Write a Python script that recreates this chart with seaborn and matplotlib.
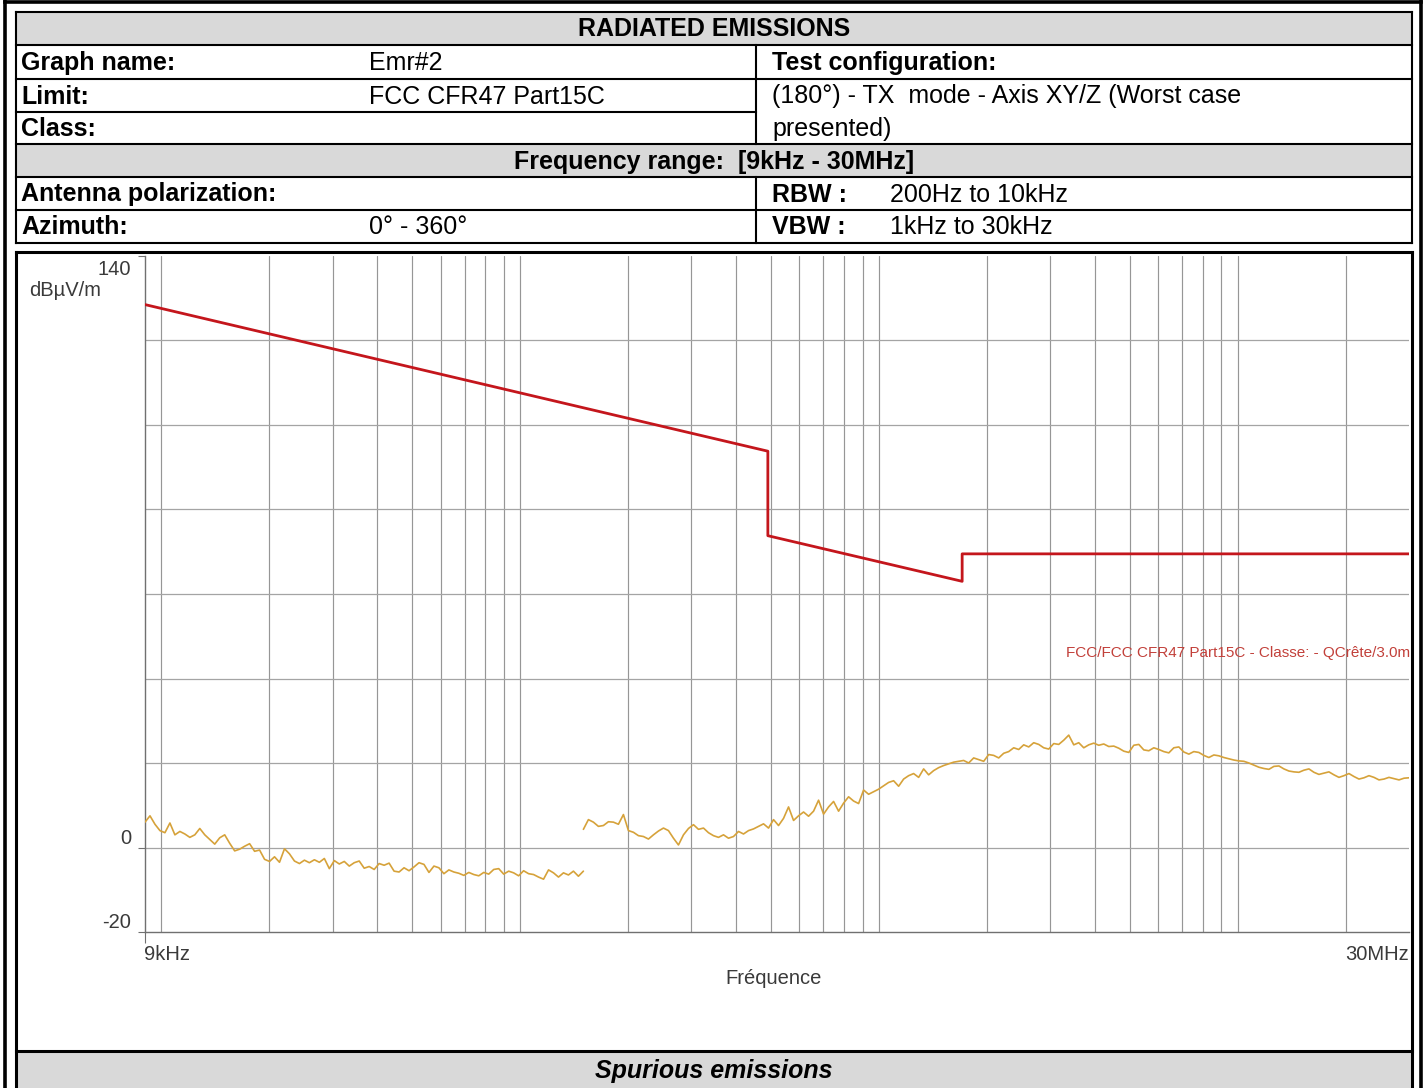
import numpy as np
import pandas as pd
import matplotlib
matplotlib.use("Agg")
import matplotlib.pyplot as plt
from matplotlib.patches import Rectangle
from matplotlib.lines import Line2D
import seaborn as sns

# ---------------- data ----------------
limit_freq_hz = [9e3, 490e3, 490e3, 1.705e6, 1.705e6, 30e6]
limit_level = [128.5, 93.8, 73.8, 63.0, 69.5, 69.5]

seg1_range_hz = [9e3, 150e3]
seg1_level = [6.0, 7.5, 5.5, 4.0, 3.5, 5.8, 3.0, 3.8, 3.2, 2.4, 3.0, 4.5, 3.0, 1.9, 0.8,
              2.3, 3.0, 1.0, -0.8, -0.4, 0.3, 0.9, -0.9, -0.6, -2.8, -3.3, -2.2, -3.5,
              -0.3, -1.5, -3.2, -3.8, -3.0, -3.6, -2.9, -3.5, -2.6, -5.0, -3.1, -3.9,
              -3.3, -4.4, -3.6, -3.2, -4.9, -4.5, -5.2, -3.8, -4.2, -3.7, -5.6, -5.8,
              -4.8, -5.5, -4.6, -3.6, -4.0, -5.9, -4.4, -4.8, -6.2, -5.3, -5.8, -6.1,
              -6.6, -5.9, -6.4, -6.7, -5.9, -6.3, -5.2, -5.0, -6.3, -5.6, -6.0, -6.7,
              -5.5, -6.2, -6.4, -7.0, -7.5, -5.3, -6.0, -7.0, -6.0, -6.5, -5.6, -6.8, -5.6]

seg2_range_hz = [150e3, 30e6]
seg2_level = [4.3, 6.6, 6.0, 5.0, 5.2, 6.1, 6.0, 5.5, 7.8, 4.0, 3.6, 2.8, 2.6, 2.0, 3.0,
              3.9, 4.6, 4.0, 2.2, 0.6, 3.0, 4.5, 5.4, 4.3, 4.6, 3.5, 2.8, 2.4, 3.0, 2.2,
              2.6, 3.8, 3.2, 4.0, 4.4, 5.0, 5.6, 4.6, 6.6, 5.2, 6.9, 9.6, 6.4, 7.5, 8.4,
              7.4, 8.6, 11.2, 7.9, 9.6, 10.9, 8.6, 10.5, 12.0, 11.0, 10.4, 13.6, 12.6,
              13.2, 13.8, 14.6, 15.4, 15.8, 14.5, 16.2, 17.0, 17.5, 16.6, 18.6, 17.2,
              18.2, 18.9, 19.4, 19.8, 20.2, 20.4, 20.6, 20.0, 21.2, 20.8, 20.4, 22.0,
              21.8, 21.2, 22.3, 22.7, 23.6, 23.2, 24.3, 23.8, 24.8, 24.4, 23.6, 23.3,
              24.6, 24.4, 25.4, 26.6, 24.3, 24.8, 23.6, 24.3, 24.7, 24.2, 24.5, 23.9,
              24.0, 23.5, 22.8, 22.5, 24.2, 24.4, 23.1, 22.9, 23.6, 23.2, 22.7, 22.4,
              23.6, 23.8, 22.6, 22.1, 22.7, 22.5, 21.8, 21.3, 21.9, 21.7, 21.3, 21.0,
              20.7, 20.5, 20.4, 20.0, 19.5, 19.0, 18.7, 18.5, 19.2, 19.3, 18.6, 18.1,
              17.9, 17.8, 18.3, 18.6, 17.8, 17.3, 17.6, 17.9, 17.2, 16.6, 17.0, 17.5,
              16.8, 16.2, 16.5, 17.0, 16.6, 16.0, 16.2, 16.6, 16.3, 16.0, 16.4, 16.5]

y_tick_values = [-20, 0, 140]
x_edge_labels = ["9kHz", "30MHz"]
limit_label = "FCC/FCC CFR47 Part15C - Classe: - QCrête/3.0m"
limit_label_level = 46

# ---------------- helpers ----------------
W, H = 1426, 1088
sns.set_theme(style="white")
TFAM = ["Liberation Sans", "DejaVu Sans"]
TSIZE = 18
plt.rcParams["font.family"] = TFAM

fig = plt.figure(figsize=(W / 100, H / 100), dpi=100)
fig.patch.set_facecolor("white")

def fx(x):
    return x / W

def fy(y):
    return 1 - y / H

def rect(x0, y0, x1, y1, fc):
    fig.add_artist(Rectangle((fx(x0), fy(y1)), (x1 - x0) / W, (y1 - y0) / H,
                             transform=fig.transFigure, facecolor=fc, edgecolor="none"))

def hline(x0, x1, y, lw=1.5):
    fig.add_artist(Line2D([fx(x0), fx(x1)], [fy(y), fy(y)], transform=fig.transFigure,
                          color="black", linewidth=lw, solid_capstyle="projecting"))

def vline(x, y0, y1, lw=1.5):
    fig.add_artist(Line2D([fx(x), fx(x)], [fy(y0), fy(y1)], transform=fig.transFigure,
                          color="black", linewidth=lw, solid_capstyle="projecting"))

def txt(x, y, s, bold=False, ha="left", italic=False, size=None):
    fig.text(fx(x), fy(y), s, ha=ha, va="center", family=TFAM,
             fontsize=size or TSIZE, fontweight="bold" if bold else "normal",
             fontstyle="italic" if italic else "normal", color="black")

# ---------------- table ----------------
TL, TR = 16, 1412
rows = [12, 45, 79, 112, 144, 177, 210, 243]
DIV = 756
GRAY = "#d9d9d9"
rect(TL, rows[0], TR, rows[1], GRAY)
rect(TL, rows[4], TR, rows[5], GRAY)
rect(TL, 1051, TR, 1092, GRAY)

for i, y in enumerate(rows):
    if i == 3:
        hline(TL, DIV, y)
    else:
        hline(TL, TR, y)
vline(TL, rows[0], rows[-1])
vline(TR, rows[0], rows[-1])
vline(DIV, rows[1], rows[4])
vline(DIV, rows[5], rows[7])

def cy(i):
    return (rows[i] + rows[i + 1]) / 2 + 1

LX, VX, RX, RVX = 21, 369, 772, 890
txt(714, cy(0), "RADIATED EMISSIONS", bold=True, ha="center")
txt(LX, cy(1), "Graph name:", bold=True)
txt(VX, cy(1), "Emr#2")
txt(RX, cy(1), "Test configuration:", bold=True)
txt(LX, cy(2), "Limit:", bold=True)
txt(VX, cy(2), "FCC CFR47 Part15C")
txt(RX, cy(2), "(180°) - TX  mode - Axis XY/Z (Worst case")
txt(LX, cy(3), "Class:", bold=True)
txt(RX, cy(3), "presented)")
txt(714, cy(4), "Frequency range:  [9kHz - 30MHz]", bold=True, ha="center")
txt(LX, cy(5), "Antenna polarization:", bold=True)
txt(RX, cy(5), "RBW :", bold=True)
txt(RVX, cy(5), "200Hz to 10kHz")
txt(LX, cy(6), "Azimuth:", bold=True)
txt(VX, cy(6), "0° - 360°")
txt(RX, cy(6), "VBW :", bold=True)
txt(RVX, cy(6), "1kHz to 30kHz")

# chart box + footer
hline(TL, TR, 252, lw=2.2)
hline(TL, TR, 1051, lw=2.2)
vline(TL, 252, 1092, lw=2.2)
vline(TR, 252, 1092, lw=2.2)
txt(714, 1071, "Spurious emissions", bold=True, italic=True, ha="center")

# outer frame
vline(4.5, 0, 1092, lw=2.6)
vline(1420.5, 0, 1092, lw=2.6)
hline(4.5, 1420.5, 1.5, lw=2.6)

# ---------------- chart ----------------
AL, AR, AT, AB = 145, 1409, 256, 932
ax = fig.add_axes([fx(AL), fy(AB), (AR - AL) / W, (AB - AT) / H])
ax.set_facecolor("none")
ax.set_xscale("log")
ax.set_xlim(9e3, 30e6)
ax.set_ylim(-20, 140)

grid_c = "#969696"
for dec in [1e4, 1e5, 1e6, 1e7]:
    for k in range(1, 10):
        f = k * dec
        if f < 30e6:
            ax.axvline(f, color=grid_c, lw=0.85, zorder=0)
for lev in range(0, 140, 20):
    ax.axhline(lev, color="#a4a4a4", lw=0.9, zorder=0)

df1 = pd.DataFrame({"freq": np.geomspace(*seg1_range_hz, len(seg1_level)), "level": seg1_level})
df2 = pd.DataFrame({"freq": np.geomspace(*seg2_range_hz, len(seg2_level)), "level": seg2_level})
dfl = pd.DataFrame({"freq": limit_freq_hz, "level": limit_level})
trace_c = "#d6a23a"
sns.lineplot(data=df1, x="freq", y="level", ax=ax, color=trace_c, lw=1.2,
             estimator=None, sort=False, legend=False, zorder=3)
sns.lineplot(data=df2, x="freq", y="level", ax=ax, color=trace_c, lw=1.2,
             estimator=None, sort=False, legend=False, zorder=3)
sns.lineplot(data=dfl, x="freq", y="level", ax=ax, color="#c4161c", lw=2.0,
             estimator=None, sort=False, legend=False, zorder=4)

ax.set_xlabel("")
ax.set_ylabel("")
for s in ["top", "right"]:
    ax.spines[s].set_visible(False)
for s in ["left", "bottom"]:
    ax.spines[s].set_color("#707070")
    ax.spines[s].set_linewidth(1.0)
ax.set_yticks(y_tick_values)
ax.set_yticklabels([])
ax.set_xticks([9e3])
ax.set_xticks([], minor=True)
ax.set_xticklabels([])
ax.tick_params(axis="y", length=5, width=0.8, color="#707070", left=True)
ax.tick_params(axis="x", length=8, width=0.8, color="#707070", bottom=True)
ax.grid(False)

lab_c = "#3a3a3a"
CS = 14.5
for v in y_tick_values:
    if v == 140:
        ax.annotate(str(v), xy=(0, v), xycoords=("axes fraction", "data"),
                    xytext=(-14, -14), textcoords="offset pixels", ha="right",
                    va="center", fontsize=CS, color=lab_c)
    else:
        ax.annotate(str(v), xy=(0, v), xycoords=("axes fraction", "data"),
                    xytext=(-14, 0), textcoords="offset pixels", ha="right",
                    va="bottom", fontsize=CS, color=lab_c)
ax.annotate("dBµV/m", xy=(fx(29), fy(290)), xycoords="figure fraction",
            ha="left", va="center", fontsize=CS, color=lab_c)
ax.annotate(x_edge_labels[0], xy=(0, 0), xycoords="axes fraction", xytext=(-1, -23),
            textcoords="offset pixels", ha="left", va="center", fontsize=CS, color=lab_c)
ax.annotate(x_edge_labels[1], xy=(1, 0), xycoords="axes fraction", xytext=(0, -23),
            textcoords="offset pixels", ha="right", va="center", fontsize=CS, color=lab_c)
ax.annotate("Fréquence", xy=(0.5, 0), xycoords="axes fraction", xytext=(-3, -46),
            textcoords="offset pixels", ha="center", va="center", fontsize=CS, color=lab_c)
ax.annotate(limit_label, xy=(1, limit_label_level), xycoords=("axes fraction", "data"),
            xytext=(1, 0), textcoords="offset pixels", ha="right", va="center",
            fontsize=11, color="#c2403a", zorder=5)

fig.savefig("out.png", dpi=100, facecolor="white")
